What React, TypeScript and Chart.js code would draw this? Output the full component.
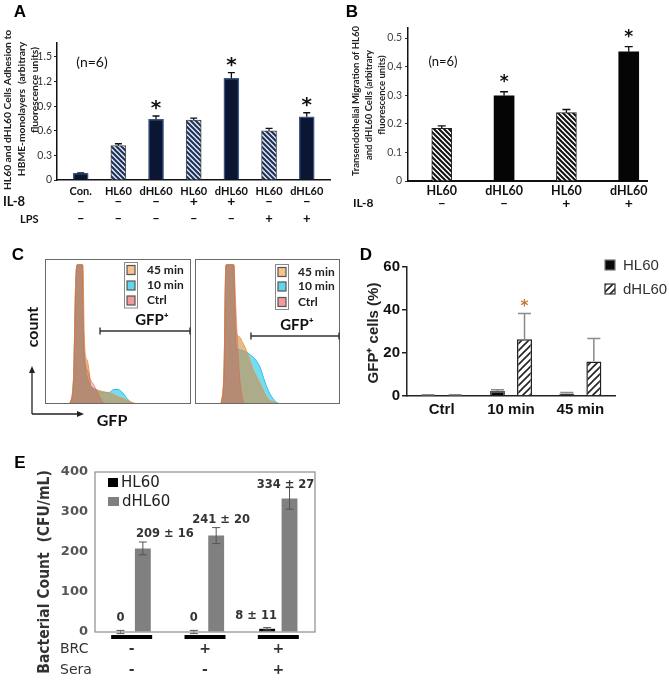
import React, { useEffect, useRef } from 'react';
import { Chart, registerables } from 'chart.js';

Chart.register(...registerables);

const CAL = 'Lato, "Open Sans", sans-serif';
const ARIAL = '"Liberation Sans", Arial, sans-serif';
const VER = '"DejaVu Sans", Verdana, sans-serif';
const VERC = '"DejaVu Sans Condensed", "DejaVu Sans", sans-serif';

// ===== Panel A: adhesion =====
const A_LABELS = ['Con.', 'HL60', 'dHL60', 'HL60', 'dHL60', 'HL60', 'dHL60'];
const A_IL8 = ['–', '–', '–', '+', '+', '–', '–'];
const A_LPS = ['–', '–', '–', '–', '–', '+', '+'];
const A_VALUES = [0.08, 0.42, 0.74, 0.73, 1.24, 0.6, 0.77];
const A_ERRORS = [0.008, 0.022, 0.04, 0.025, 0.07, 0.03, 0.05];
const A_STAR = [false, false, true, false, true, false, true];
const A_HATCHED = [false, true, false, true, false, true, false];
const A_YTICKS = [0, 0.3, 0.6, 0.9, 1.2, 1.5];
const A_YTITLE = ['HL60 and dHL60 Cells Adhesion to', 'HBME-monolayers  (arbitrary', 'fluorescence units)'];

// ===== Panel B: transendothelial migration =====
const B_LABELS = ['HL60', 'dHL60', 'HL60', 'dHL60'];
const B_IL8 = ['–', '–', '+', '+'];
const B_VALUES = [0.184, 0.298, 0.239, 0.452];
const B_ERRORS = [0.009, 0.014, 0.011, 0.018];
const B_STAR = [false, true, false, true];
const B_HATCHED = [true, false, true, false];
const B_YTICKS = [0, 0.1, 0.2, 0.3, 0.4, 0.5];
const B_YTITLE = ['Transendothelial Migration of HL60', 'and dHL60 Cells (arbitrary', 'fluorescence units)'];

// ===== Panel C: GFP histograms [GFP channel %, count %] =====
const C_LEGEND = ['45 min', '10 min', 'Ctrl'];
const C1_CTRL = [[17, 0], [19.5, 15], [21, 80], [22, 96], [25.5, 96], [26.5, 45], [27.5, 30], [29.5, 22], [31, 17], [33, 14], [35, 10], [38, 4], [40, 1], [42, 0]];
const C1_45 = [[17, 0], [19.5, 18], [21, 85], [22, 96], [26, 96], [26.8, 50], [27.8, 33], [29, 30], [30.3, 22], [31.5, 12], [34, 10], [38, 9], [42, 8], [46, 7], [50, 5], [55, 3], [60, 1], [63, 0]];
const C1_10 = [[17, 0], [19.5, 16], [21, 82], [22, 96], [25.5, 96], [26.5, 42], [27.5, 26], [29, 18], [31, 13], [35, 10], [40, 8], [44, 8], [47, 10], [50, 10], [53, 8], [56, 4], [59, 1], [61, 0]];
const C2_CTRL = [[18, 0], [20, 20], [21, 85], [21.5, 96], [26.5, 96], [28, 70], [29.7, 35], [31, 16], [33, 3], [34, 0]];
const C2_45 = [[18, 0], [20, 25], [21, 88], [21.5, 96], [27, 96], [28, 56], [29.5, 47], [31, 46], [32.5, 43], [35, 38], [40, 24], [45, 14], [50, 4], [55, 1], [62, 0]];
const C2_10 = [[18, 0], [20, 22], [21, 86], [21.5, 96], [26.5, 96], [27.5, 60], [28.3, 40], [30, 37.5], [35, 36], [38, 34], [41.4, 31], [44.8, 25.5], [48.3, 15], [51.7, 7], [55.9, 1.4], [58.6, 0]];
const C_GATE = [37.7, 38.6];

// ===== Panel D: GFP+ cells =====
const D_LABELS = ['Ctrl', '10 min', '45 min'];
const D_HL60 = [0.3, 2.3, 1.2];
const D_HL60_ERR = [0.3, 0.6, 0.4];
const D_DHL60 = [0.3, 26.4, 16];
const D_DHL60_ERR = [0.3, 12, 10.8];
const D_STAR = [false, true, false];
const D_YTICKS = [0, 20, 40, 60];

// ===== Panel E: bacterial count =====
const E_GROUPS = ['BRC- Sera-', 'BRC+ Sera-', 'BRC+ Sera+'];
const E_BRC = ['-', '+', '+'];
const E_SERA = ['-', '-', '+'];
const E_HL60 = [0, 0, 8];
const E_HL60_ERR = [4, 4, 3];
const E_DHL60 = [209, 241, 334];
const E_DHL60_ERR = [16, 20, 27];
const E_HL60_TEXT = ['0', '0', '8 ± 11'];
const E_DHL60_TEXT = ['209 ± 16', '241 ± 20', '334 ± 27'];
const E_YTICKS = [0, 100, 200, 300, 400];

// canvas rectangles on the page [left, top, width, height]
const R_A = [0, 0, 340, 230];
const R_B = [340, 0, 329, 215];
const R_C1 = [0, 228, 193, 212];
const R_C2 = [193, 228, 147, 200];
const R_D = [340, 228, 329, 200];
const R_E = [0, 440, 400, 241];

function txt(ctx: any, s: string, x: number, y: number, font: string, color: string, align: CanvasTextAlign = 'center', rot = 0, baseline: CanvasTextBaseline = 'middle') {
  ctx.save();
  ctx.translate(x, y);
  if (rot) ctx.rotate(rot);
  ctx.font = font;
  ctx.fillStyle = color;
  ctx.textAlign = align;
  ctx.textBaseline = baseline;
  ctx.fillText(s, 0, 0);
  ctx.restore();
}

function star(ctx: any, x: number, cy: number, size: number, color: string) {
  txt(ctx, '*', x, cy + size * 0.56, `bold ${size}px ${VER}`, color, 'center', 0, 'alphabetic');
}

function hatch(bg: string, fg: string, dir: number, s: number, lw: number) {
  const c = document.createElement('canvas');
  c.width = s; c.height = s;
  const g = c.getContext('2d') as CanvasRenderingContext2D;
  g.fillStyle = bg; g.fillRect(0, 0, s, s);
  g.strokeStyle = fg; g.lineWidth = lw;
  g.beginPath();
  if (dir === 1) {
    g.moveTo(0, s); g.lineTo(s, 0);
    g.moveTo(-s / 2, s / 2); g.lineTo(s / 2, -s / 2);
    g.moveTo(s / 2, s * 1.5); g.lineTo(s * 1.5, s / 2);
  } else {
    g.moveTo(0, 0); g.lineTo(s, s);
    g.moveTo(-s / 2, s / 2); g.lineTo(s / 2, s * 1.5);
    g.moveTo(s / 2, -s / 2); g.lineTo(s * 1.5, s / 2);
  }
  g.stroke();
  return g.createPattern(c, 'repeat') as CanvasPattern;
}

function errorPlugin(errs: any[], color: string, lw: number, half: number, both: boolean) {
  return {
    id: 'errbars',
    afterDatasetsDraw(chart: any) {
      const ctx = chart.ctx;
      const ys = chart.scales.y;
      ctx.save();
      ctx.strokeStyle = color;
      ctx.lineWidth = lw;
      chart.data.datasets.forEach((ds: any, di: number) => {
        const e = errs[di];
        if (!e) return;
        chart.getDatasetMeta(di).data.forEach((el: any, i: number) => {
          const raw = ds.data[i];
          const v = typeof raw === 'number' ? raw : raw.y;
          const x = el.x;
          const yt = ys.getPixelForValue(v + e[i]);
          const yb = ys.getPixelForValue(both ? v - e[i] : v);
          ctx.beginPath();
          ctx.moveTo(x, yb); ctx.lineTo(x, yt);
          ctx.moveTo(x - half, yt); ctx.lineTo(x + half, yt);
          if (both) { ctx.moveTo(x - half, yb); ctx.lineTo(x + half, yb); }
          ctx.stroke();
        });
      });
      ctx.restore();
    },
  };
}

const baseOpts = {
  responsive: false,
  maintainAspectRatio: false,
  animation: false,
  events: [],
};

function buildA(cv: HTMLCanvasElement) {
  const [ox, oy] = R_A;
  const X = (v: number) => v - ox, Y = (v: number) => v - oy;
  const hatchA = hatch('#dde7f4', '#1d2f55', -1, 5, 2);
  const annot = {
    id: 'annotA',
    afterDraw(chart: any) {
      const ctx = chart.ctx, ys = chart.scales.y, meta = chart.getDatasetMeta(0);
      txt(ctx, 'A', X(20), Y(12), `bold 17px ${ARIAL}`, '#000');
      const tx = [7.5, 21.5, 35], ty = [110, 109, 90];
      A_YTITLE.forEach((s, i) => txt(ctx, s, X(tx[i]), Y(ty[i]), `bold 10.3px ${CAL}`, '#222', 'center', -Math.PI / 2));
      txt(ctx, '(n=6)', X(92), Y(62), `14px ${CAL}`, '#111');
      meta.data.forEach((el: any, i: number) => {
        if (A_STAR[i]) star(ctx, el.x, ys.getPixelForValue(A_VALUES[i] + A_ERRORS[i]) - 13, 20, '#111');
        txt(ctx, A_IL8[i], el.x, Y(201), `bold 14px ${CAL}`, '#111');
        txt(ctx, A_LPS[i], el.x, Y(219), `bold 13px ${CAL}`, '#111');
      });
      txt(ctx, 'IL-8', X(3), Y(202), `bold 13px ${CAL}`, '#111', 'left');
      txt(ctx, 'LPS', X(20), Y(219), `bold 11px ${CAL}`, '#111', 'left');
    },
  };
  return new Chart(cv, {
    type: 'bar',
    data: {
      datasets: [{
        data: A_VALUES.map((v, i) => ({ x: i + 1, y: v })),
        backgroundColor: A_HATCHED.map((h) => (h ? hatchA : '#0b1633')),
        borderColor: A_HATCHED.map((h) => (h ? '#4a4a4a' : '#3a5686')),
        borderWidth: A_HATCHED.map((h) => (h ? 1 : 1.5)),
        barThickness: 15,
      }],
    },
    options: {
      ...baseOpts,
      layout: { padding: { top: 43, right: 10, left: 0, bottom: 0 } },
      plugins: { legend: { display: false }, tooltip: { enabled: false } },
      scales: {
        x: {
          type: 'linear', min: 0.371, max: 7.618, offset: false, bounds: 'data',
          afterFit: (s: any) => { s.height = 50; },
          afterBuildTicks: (s: any) => { s.ticks = A_LABELS.map((_, i) => ({ value: i + 1 })); },
          ticks: { callback: (_v: any, i: number) => A_LABELS[i] ?? '', font: { family: CAL, size: 11, weight: 'bold' }, color: '#111', padding: 5, autoSkip: false, maxRotation: 0 },
          grid: { display: false, drawTicks: false, offset: false },
          border: { display: true, color: '#111', width: 1.5 },
        },
        y: {
          min: 0, max: 1.67, bounds: 'data',
          afterFit: (s: any) => { s.width = 57; },
          afterBuildTicks: (s: any) => { s.ticks = A_YTICKS.map((v) => ({ value: v })); },
          ticks: { callback: (v: any) => (v === 0 ? '0' : Number(v).toFixed(1)), font: { family: CAL, size: 10.5 }, color: '#333', padding: 2 },
          grid: { drawOnChartArea: false, drawTicks: true, tickLength: 3, color: '#222' },
          border: { color: '#111', width: 1.5 },
        },
      },
    } as any,
    plugins: [errorPlugin([A_ERRORS], '#111', 1.3, 3.5, false), annot],
  });
}

function buildB(cv: HTMLCanvasElement) {
  const [ox, oy] = R_B;
  const X = (v: number) => v - ox, Y = (v: number) => v - oy;
  const hatchB = hatch('#ffffff', '#111111', -1, 5, 2);
  const annot = {
    id: 'annotB',
    afterDraw(chart: any) {
      const ctx = chart.ctx, ys = chart.scales.y, meta = chart.getDatasetMeta(0);
      txt(ctx, 'B', X(352), Y(12), `bold 17px ${ARIAL}`, '#000');
      const tx = [356, 369, 382], ty = [101, 105, 95];
      B_YTITLE.forEach((s, i) => txt(ctx, s, X(tx[i]), Y(ty[i]), `bold 9.5px ${CAL}`, '#222', 'center', -Math.PI / 2));
      txt(ctx, '(n=6)', X(443), Y(62), `13px ${CAL}`, '#111');
      meta.data.forEach((el: any, i: number) => {
        if (B_STAR[i]) star(ctx, el.x, ys.getPixelForValue(B_VALUES[i] + B_ERRORS[i]) - 14, 17, '#111');
        txt(ctx, B_IL8[i], el.x, Y(203), `bold 14px ${CAL}`, '#111');
      });
      txt(ctx, 'IL-8', X(353), Y(203), `bold 12px ${CAL}`, '#111', 'left');
    },
  };
  return new Chart(cv, {
    type: 'bar',
    data: {
      datasets: [{
        data: B_VALUES.map((v, i) => ({ x: i + 1, y: v })),
        backgroundColor: B_HATCHED.map((h) => (h ? hatchB : '#050505')),
        borderColor: '#222',
        borderWidth: B_HATCHED.map((h) => (h ? 1 : 0)),
        barThickness: 20,
      }],
    },
    options: {
      ...baseOpts,
      layout: { padding: { top: 28, right: 22, left: 0, bottom: 0 } },
      plugins: { legend: { display: false }, tooltip: { enabled: false } },
      scales: {
        x: {
          type: 'linear', min: 0.4585, max: 4.293, offset: false, bounds: 'data',
          afterFit: (s: any) => { s.height = 34; },
          afterBuildTicks: (s: any) => { s.ticks = B_LABELS.map((_, i) => ({ value: i + 1 })); },
          ticks: { callback: (_v: any, i: number) => B_LABELS[i] ?? '', font: { family: CAL, size: 12.5, weight: 'bold' }, color: '#111', padding: 2, autoSkip: false, maxRotation: 0 },
          grid: { display: false, drawTicks: false, offset: false },
          border: { display: true, color: '#111', width: 2 },
        },
        y: {
          min: 0, max: 0.535, bounds: 'data',
          afterFit: (s: any) => { s.width = 68; },
          afterBuildTicks: (s: any) => { s.ticks = B_YTICKS.map((v) => ({ value: v })); },
          ticks: { callback: (v: any) => (v === 0 ? '0' : Number(v).toFixed(1)), font: { family: CAL, size: 10.5 }, color: '#444', padding: 3 },
          grid: { drawOnChartArea: false, drawTicks: true, tickLength: 3, color: '#333' },
          border: { color: '#111', width: 1.5 },
        },
      },
    } as any,
    plugins: [errorPlugin([B_ERRORS], '#111', 1.3, 4, false), annot],
  });
}

const C_FILL = ['rgba(200,80,70,0.33)', 'rgba(210,140,70,0.6)', 'rgba(60,205,235,0.7)'];
const C_LINE = ['rgba(215,100,80,0.55)', 'rgba(235,150,70,0.95)', 'rgba(40,190,225,0.95)'];
const C_SWATCH = ['#f6c48e', '#62d6ee', '#f39a9a'];

function buildC(cv: HTMLCanvasElement, rect: number[], sets: number[][][], gate: number, cfg: any) {
  const [ox, oy] = rect;
  const X = (v: number) => v - ox, Y = (v: number) => v - oy;
  const annot = {
    id: 'annotC',
    afterDraw(chart: any) {
      const ctx = chart.ctx, ca = chart.chartArea, xs = chart.scales.x;
      ctx.save();
      ctx.strokeStyle = '#6a6a6a';
      ctx.lineWidth = 1;
      ctx.strokeRect(ca.left + 0.5, ca.top + 0.5, ca.right - ca.left - 1, ca.bottom - ca.top - 1);
      // legend
      ctx.strokeStyle = '#888';
      ctx.lineWidth = 1;
      ctx.strokeRect(ca.right - cfg.sq - 2.5, ca.top + cfg.rows[0] - 7.5, 13, cfg.rows[2] - cfg.rows[0] + 15);
      C_LEGEND.forEach((s, i) => {
        const cy = ca.top + cfg.rows[i];
        ctx.fillStyle = C_SWATCH[i];
        ctx.fillRect(ca.right - cfg.sq, cy - 4.5, 8, 9);
        ctx.strokeStyle = '#555';
        ctx.lineWidth = 1.2;
        ctx.strokeRect(ca.right - cfg.sq, cy - 4.5, 8, 9);
        txt(ctx, s, ca.right - cfg.lab, cy, `bold 12px ${CAL}`, '#222', 'left');
      });
      // gate
      const gx = xs.getPixelForValue(gate);
      const gy = Y(cfg.gateY);
      ctx.strokeStyle = '#333';
      ctx.lineWidth = 1.4;
      ctx.beginPath();
      ctx.moveTo(gx, gy); ctx.lineTo(ca.right - 1, gy);
      ctx.moveTo(gx, gy - 3.5); ctx.lineTo(gx, gy + 3.5);
      ctx.moveTo(ca.right - 1, gy - 3.5); ctx.lineTo(ca.right - 1, gy + 3.5);
      ctx.stroke();
      txt(ctx, 'GFP⁺', X(cfg.textX), Y(cfg.textY), `bold 15px ${CAL}`, '#111');
      if (cfg.outer) {
        txt(ctx, 'C', X(18), Y(255), `bold 17px ${ARIAL}`, '#000');
        txt(ctx, 'count', X(33), Y(327), `bold 16px ${CAL}`, '#111', 'center', -Math.PI / 2);
        ctx.strokeStyle = '#222';
        ctx.fillStyle = '#222';
        ctx.lineWidth = 1.3;
        ctx.beginPath();
        ctx.moveTo(X(32), Y(414)); ctx.lineTo(X(32), Y(371));
        ctx.moveTo(X(32), Y(414)); ctx.lineTo(X(79), Y(414));
        ctx.stroke();
        ctx.beginPath();
        ctx.moveTo(X(32), Y(366)); ctx.lineTo(X(29), Y(373)); ctx.lineTo(X(35), Y(373)); ctx.closePath(); ctx.fill();
        ctx.beginPath();
        ctx.moveTo(X(84), Y(414)); ctx.lineTo(X(77), Y(411)); ctx.lineTo(X(77), Y(417)); ctx.closePath(); ctx.fill();
        txt(ctx, 'GFP', X(112), Y(421), `bold 16px ${CAL}`, '#111');
      }
      ctx.restore();
    },
  };
  const names = ['Ctrl', '45 min', '10 min'];
  return new Chart(cv, {
    type: 'line',
    data: {
      datasets: sets.map((pts, i) => ({
        label: names[i],
        data: pts.map(([x, y]) => ({ x, y })),
        borderColor: C_LINE[i],
        backgroundColor: C_FILL[i],
        fill: 'origin',
        borderWidth: 1,
        pointRadius: 0,
        cubicInterpolationMode: 'monotone',
      })),
    },
    options: {
      ...baseOpts,
      layout: { padding: cfg.padding },
      plugins: { legend: { display: false }, tooltip: { enabled: false } },
      scales: {
        x: { type: 'linear', display: false, min: 0, max: 100 },
        y: { display: false, min: 0, max: 100 },
      },
    } as any,
    plugins: [annot],
  });
}

function buildD(cv: HTMLCanvasElement) {
  const [ox, oy] = R_D;
  const X = (v: number) => v - ox, Y = (v: number) => v - oy;
  const hatchD = hatch('#ffffff', '#222222', 1, 7, 1.6);
  const annot = {
    id: 'annotD',
    afterDraw(chart: any) {
      const ctx = chart.ctx, ys = chart.scales.y, meta = chart.getDatasetMeta(1);
      txt(ctx, 'D', X(366), Y(255), `bold 17px ${ARIAL}`, '#000');
      txt(ctx, 'GFP⁺ cells (%)', X(374), Y(333), `bold 15px ${ARIAL}`, '#222', 'center', -Math.PI / 2);
      ctx.save();
      ctx.fillStyle = '#0a0a0a';
      ctx.fillRect(X(605), Y(260), 10, 10);
      ctx.strokeStyle = '#777';
      ctx.lineWidth = 1.2;
      ctx.strokeRect(X(605), Y(260), 10, 10);
      ctx.fillStyle = hatchD;
      ctx.fillRect(X(605), Y(284), 10, 10);
      ctx.strokeStyle = '#333';
      ctx.strokeRect(X(605), Y(284), 10, 10);
      ctx.restore();
      txt(ctx, 'HL60', X(623), Y(265.5), `15px ${ARIAL}`, '#333', 'left');
      txt(ctx, 'dHL60', X(623), Y(289.5), `15px ${ARIAL}`, '#333', 'left');
      meta.data.forEach((el: any, i: number) => {
        if (D_STAR[i]) star(ctx, el.x, ys.getPixelForValue(D_DHL60[i] + D_DHL60_ERR[i]) - 11, 15, '#c8782a');
      });
    },
  };
  return new Chart(cv, {
    type: 'bar',
    data: {
      labels: D_LABELS,
      datasets: [
        { label: 'HL60', data: D_HL60, backgroundColor: '#0a0a0a', borderColor: '#555', borderWidth: 1.5 },
        { label: 'dHL60', data: D_DHL60, backgroundColor: hatchD, borderColor: '#222', borderWidth: 1.5 },
      ],
    },
    options: {
      ...baseOpts,
      layout: { padding: { top: 39, right: 54, left: 0, bottom: 0 } },
      datasets: { bar: { barPercentage: 0.555, categoryPercentage: 0.78 } },
      plugins: { legend: { display: false }, tooltip: { enabled: false } },
      scales: {
        x: {
          afterFit: (s: any) => { s.height = 32; },
          ticks: { font: { family: ARIAL, size: 15, weight: 'bold' }, color: '#111', padding: 5, autoSkip: false, maxRotation: 0 },
          grid: { display: false, drawTicks: false },
          border: { display: true, color: '#222', width: 1.5 },
        },
        y: {
          min: 0, max: 60,
          afterFit: (s: any) => { s.width = 67; },
          afterBuildTicks: (s: any) => { s.ticks = D_YTICKS.map((v) => ({ value: v })); },
          ticks: { font: { family: ARIAL, size: 15, weight: 'bold' }, color: '#111', padding: 2 },
          grid: { drawOnChartArea: false, drawTicks: true, tickLength: 5, color: '#222', lineWidth: 1.5 },
          border: { color: '#222', width: 1.5 },
        },
      },
    } as any,
    plugins: [errorPlugin([D_HL60_ERR, D_DHL60_ERR], '#8a8a8a', 1.5, 6.5, false), annot],
  });
}

const E_HL60_DX = [0, 0, -11];
const E_DHL60_DX = [22, 5, -4];

function buildE(cv: HTMLCanvasElement) {
  const [ox, oy] = R_E;
  const X = (v: number) => v - ox, Y = (v: number) => v - oy;
  const annot = {
    id: 'annotE',
    afterDraw(chart: any) {
      const ctx = chart.ctx, ys = chart.scales.y, ca = chart.chartArea;
      const m0 = chart.getDatasetMeta(0), m1 = chart.getDatasetMeta(1);
      ctx.save();
      ctx.strokeStyle = '#8c8c8c';
      ctx.lineWidth = 1.2;
      ctx.strokeRect(ca.left, ca.top, ca.right - ca.left, ca.bottom - ca.top);
      ctx.fillStyle = '#000';
      ctx.fillRect(X(108), Y(478), 10, 9);
      ctx.fillStyle = '#808080';
      ctx.fillRect(X(108), Y(497), 11, 9);
      ctx.restore();
      txt(ctx, 'HL60', X(121), Y(483), `15px ${VER}`, '#222', 'left');
      txt(ctx, 'dHL60', X(122), Y(502), `15px ${VER}`, '#222', 'left');
      const f = `bold 11.5px ${VER}`;
      m0.data.forEach((el: any, i: number) => {
        const y = ys.getPixelForValue(E_HL60[i] + E_HL60_ERR[i]) - 12;
        txt(ctx, E_HL60_TEXT[i], el.x + E_HL60_DX[i], y, f, '#333');
      });
      m1.data.forEach((el: any, i: number) => {
        const y = Math.max(ys.getPixelForValue(E_DHL60[i] + E_DHL60_ERR[i]) - 8, ca.top + 13);
        txt(ctx, E_DHL60_TEXT[i], el.x + E_DHL60_DX[i], y, f, '#333');
      });
      ctx.save();
      ctx.strokeStyle = '#000';
      ctx.lineWidth = 4;
      m0.data.forEach((el: any, i: number) => {
        const gx = (el.x + m1.data[i].x) / 2;
        ctx.beginPath();
        ctx.moveTo(gx - 20.5, ca.bottom + 5);
        ctx.lineTo(gx + 20.5, ca.bottom + 5);
        ctx.stroke();
        txt(ctx, E_BRC[i], gx, Y(649), `bold 14px ${VER}`, '#333');
        txt(ctx, E_SERA[i], gx, Y(670), `bold 14px ${VER}`, '#333');
      });
      ctx.restore();
      txt(ctx, 'BRC', X(60), Y(649), `14px ${VER}`, '#333', 'left');
      txt(ctx, 'Sera', X(60), Y(670), `14px ${VER}`, '#333', 'left');
      txt(ctx, 'E', X(20), Y(463), `bold 17px ${ARIAL}`, '#000');
      txt(ctx, 'Bacterial Count  (CFU/mL)', X(45), Y(572), `bold 15.5px ${VERC}`, '#333', 'center', -Math.PI / 2);
    },
  };
  return new Chart(cv, {
    type: 'bar',
    data: {
      labels: E_GROUPS,
      datasets: [
        { label: 'HL60', data: E_HL60, backgroundColor: '#000' },
        { label: 'dHL60', data: E_DHL60, backgroundColor: '#808080' },
      ],
    },
    options: {
      ...baseOpts,
      layout: { padding: { top: 32, right: 85, left: 0, bottom: 49 } },
      datasets: { bar: { barPercentage: 0.71, categoryPercentage: 0.61 } },
      plugins: { legend: { display: false }, tooltip: { enabled: false } },
      scales: {
        x: { display: false },
        y: {
          min: 0, max: 400,
          afterFit: (s: any) => { s.width = 95; },
          afterBuildTicks: (s: any) => { s.ticks = E_YTICKS.map((v) => ({ value: v })); },
          ticks: { font: { family: VER, size: 13, weight: 'bold' }, color: '#555', padding: 7 },
          grid: { drawOnChartArea: false, drawTicks: false },
          border: { display: false },
        },
      },
    } as any,
    plugins: [errorPlugin([E_HL60_ERR, E_DHL60_ERR], '#555', 1, 4, true), annot],
  });
}

export default function App() {
  const rA = useRef<HTMLCanvasElement>(null);
  const rB = useRef<HTMLCanvasElement>(null);
  const rC1 = useRef<HTMLCanvasElement>(null);
  const rC2 = useRef<HTMLCanvasElement>(null);
  const rD = useRef<HTMLCanvasElement>(null);
  const rE = useRef<HTMLCanvasElement>(null);

  useEffect(() => {
    const charts: Chart[] = [
      buildA(rA.current as HTMLCanvasElement),
      buildB(rB.current as HTMLCanvasElement),
      buildC(rC1.current as HTMLCanvasElement, R_C1, [C1_CTRL, C1_45, C1_10], C_GATE[0], {
        padding: { left: 45, top: 31, right: 2, bottom: 36 },
        rows: [11, 26.5, 41.5], sq: 64, lab: 44, gateY: 331, textX: 152, textY: 320, outer: true,
      }),
      buildC(rC2.current as HTMLCanvasElement, R_C2, [C2_CTRL, C2_45, C2_10], C_GATE[1], {
        padding: { left: 2, top: 31, right: 0, bottom: 24 },
        rows: [13, 27.5, 43], sq: 62, lab: 42, gateY: 336, textX: 297, textY: 325, outer: false,
      }),
      buildD(rD.current as HTMLCanvasElement),
      buildE(rE.current as HTMLCanvasElement),
    ];
    return () => charts.forEach((c) => c.destroy());
  }, []);

  const cs = (r: number[]) => ({ position: 'absolute' as const, left: r[0], top: r[1], width: r[2], height: r[3] });

  return (
    <div style={{ position: 'absolute', left: 0, top: 0, width: 669, height: 681, background: '#fff', overflow: 'hidden' }}>
      <canvas ref={rA} width={R_A[2]} height={R_A[3]} style={cs(R_A)} />
      <canvas ref={rB} width={R_B[2]} height={R_B[3]} style={cs(R_B)} />
      <canvas ref={rC1} width={R_C1[2]} height={R_C1[3]} style={cs(R_C1)} />
      <canvas ref={rC2} width={R_C2[2]} height={R_C2[3]} style={cs(R_C2)} />
      <canvas ref={rD} width={R_D[2]} height={R_D[3]} style={cs(R_D)} />
      <canvas ref={rE} width={R_E[2]} height={R_E[3]} style={cs(R_E)} />
    </div>
  );
}
